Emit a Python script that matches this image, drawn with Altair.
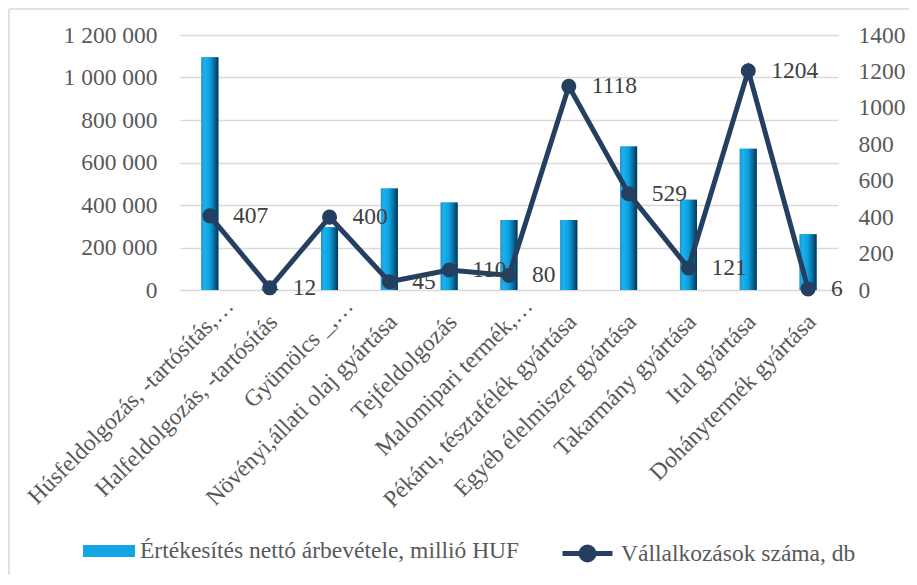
import altair as alt
import pandas as pd

categories = [
    "Húsfeldolgozás, -tartósítás,…",
    "Halfeldolgozás, -tartósítás",
    "Gyümölcs _,…",
    "Növényi,állati olaj gyártása",
    "Tejfeldolgozás",
    "Malomipari termék,…",
    "Pékáru, tésztafélék gyártása",
    "Egyéb élelmiszer gyártása",
    "Takarmány gyártása",
    "Ital gyártása",
    "Dohánytermék gyártása",
]
revenue = [1095000, 5000, 295000, 478000, 412000, 330000, 330000, 675000, 425000, 665000, 262000]
companies = [407, 12, 400, 45, 110, 80, 1118, 529, 121, 1204, 6]

s_bar = "Értékesítés nettó árbevétele, millió HUF"
s_line = "Vállalkozások száma, db"

left_ticks = [0, 200000, 400000, 600000, 800000, 1000000, 1200000]
right_ticks = [0, 200, 400, 600, 800, 1000, 1200, 1400]

df = pd.DataFrame({
    "cat": categories,
    "revenue": revenue,
    "count": companies,
    "s1": [s_bar] * len(categories),
    "s2": [s_line] * len(categories),
})

FONT = "Liberation Serif"
NAVY = "#243f60"
BLUE = "#14a6e4"
GRID = "#d9d9d9"

ELLIPSIS_TEST = "indexof(datum.label, '…') >= 0"

x_axis = alt.Axis(
    labelAngle=-45, labelAlign="right", labelBaseline="middle",
    labelPadding={"condition": {"test": ELLIPSIS_TEST, "value": 12}, "value": 28},
    labelOffset={"condition": {"test": ELLIPSIS_TEST, "value": 20}, "value": 4},
    labelFont=FONT, labelFontSize=23.5, labelColor="#595959", labelLimit=400,
    domain=False, ticks=False, title=None, grid=False,
)
x_enc = alt.X("cat:N", sort=categories, scale=alt.Scale(paddingInner=0, paddingOuter=0), axis=x_axis)

left_axis = alt.Axis(
    values=left_ticks, grid=True, gridColor=GRID, gridWidth=1.5, domain=False, ticks=False,
    labelFont=FONT, labelFontSize=23.5, labelColor="#595959", labelPadding=23, title=None,
    labelExpr="replace(replace(format(datum.value, ','), ',', ' '), ',', ' ')",
)
right_axis = alt.Axis(
    values=right_ticks, grid=False, domain=False, ticks=False, orient="right", format="d",
    labelFont=FONT, labelFontSize=23.5, labelColor="#595959", labelPadding=20, title=None,
)
y_left = alt.Y("revenue:Q", scale=alt.Scale(domain=[0, 1200000], nice=False), axis=left_axis)
y_right = alt.Y("count:Q", scale=alt.Scale(domain=[0, 1400], nice=False), axis=right_axis)

gradient = alt.Gradient(
    gradient="linear",
    stops=[
        alt.GradientStop(color="#2a8fc4", offset=0),
        alt.GradientStop(color="#19b2f0", offset=0.18),
        alt.GradientStop(color="#0c9fdc", offset=0.5),
        alt.GradientStop(color="#086d9e", offset=0.75),
        alt.GradientStop(color="#0b3350", offset=1),
    ],
    x1=0, x2=1, y1=0, y2=0,
)

bar_legend_layer = alt.Chart(df).mark_bar(size=17).encode(
    x=x_enc,
    y=y_left,
    fill=alt.Fill("s1:N", scale=alt.Scale(domain=[s_bar], range=[BLUE]),
                  legend=alt.Legend(
                      orient="none", legendX=-97, legendY=490, title=None,
                      symbolType="M-1,-0.23H1V0.23H-1Z", symbolSize=2704, symbolStrokeWidth=0,
                      labelFont=FONT, labelFontSize=23.5, labelColor="#595959", labelLimit=0,
                      labelOffset=5)),
)
bars = alt.Chart(df).mark_bar(size=17, color=gradient).encode(x=x_enc, y=y_left)

line = alt.Chart(df).mark_line(strokeWidth=5, point=alt.OverlayMarkDef(filled=True, size=170, color=NAVY)).encode(
    x=x_enc,
    y=y_right,
    stroke=alt.Stroke("s2:N", scale=alt.Scale(domain=[s_line], range=[NAVY]),
                      legend=alt.Legend(
                          orient="none", legendX=380, legendY=491, title=None,
                          symbolType="M-1,0H1M-0.26,0a0.26,0.26 0 1,0 0.52,0a0.26,0.26 0 1,0 -0.52,0",
                          symbolSize=2500, symbolStrokeWidth=5, symbolFillColor=NAVY,
                          labelFont=FONT, labelFontSize=23.5, labelColor="#595959", labelLimit=0,
                          labelOffset=6)),
)
labels = alt.Chart(df).mark_text(
    align="left", baseline="middle", dx=23, font=FONT, fontSize=23.5, color="#404040"
).encode(x=x_enc, y=y_right, text=alt.Text("count:Q", format="d"))

frame_df = pd.DataFrame({"k": [0]})
frame_left = alt.Chart(frame_df).mark_rule(color=GRID, strokeWidth=1.5).encode(
    x=alt.value(-171), y=alt.value(-26), y2=alt.value(545))
frame_top = alt.Chart(frame_df).mark_rule(color=GRID, strokeWidth=1.5).encode(
    x=alt.value(-171), x2=alt.value(730), y=alt.value(-26))

left_group = alt.layer(bar_legend_layer, bars)
right_group = alt.layer(line, labels)

chart = alt.layer(left_group, right_group, frame_left, frame_top).resolve_scale(
    y="independent", fill="independent", stroke="independent"
).properties(
    width=658, height=255,
    autosize=alt.AutoSizeParams(type="none"),
    padding={"left": 172, "top": 27, "right": 71, "bottom": 285},
    background="white",
).configure_view(strokeWidth=0)

chart.save("out.html", embed_options={"renderer": "svg", "actions": False})
